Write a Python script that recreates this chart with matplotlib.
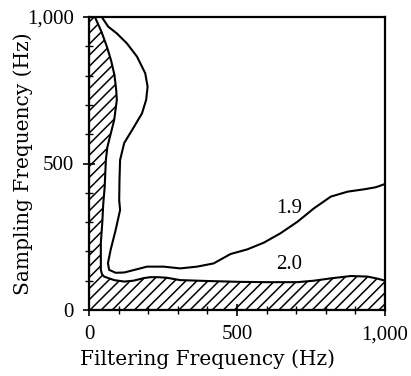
import matplotlib
matplotlib.use("Agg")
import numpy as np
from matplotlib import pyplot as plt
from matplotlib.ticker import MultipleLocator, FuncFormatter

# hatched region boundary (filtering Hz, sampling Hz)
hatch_x = [0, 20, 42, 60, 75, 86, 92, 94, 85, 74, 62, 57, 53, 48, 45, 40, 40, 44, 51,
           85, 119, 150, 186, 207, 235, 263, 308, 399, 512, 600, 704, 760, 817, 885, 941,
           975, 1000, 1000, 0]
hatch_y = [1000, 1000, 950, 900, 850, 802, 750, 717, 648, 604, 556, 512, 420, 360, 300,
           229, 137, 122, 114, 102, 97, 100, 109, 112, 112, 110, 102, 99, 96, 95, 95, 100,
           108, 116, 114, 107, 100, 0, 0]

# contour 1.9
c19_x = [43, 65, 94, 128, 162, 190, 198, 193, 179, 152, 119, 105, 103, 102, 105, 90,
         73, 64, 68, 90, 119, 150, 196, 252, 308, 365, 421, 478, 535, 591, 647,
         704, 760, 817, 874, 930, 969, 1000]
c19_y = [1000, 967, 944, 910, 865, 808, 762, 717, 671, 625, 570, 512, 444, 375, 341, 273,
         205, 160, 137, 127, 128, 136, 148, 148, 142, 148, 159, 191, 207, 230, 262,
         301, 347, 387, 404, 412, 419, 430]

labels = ["1.9", "2.0"]
label_x = [675, 675]
label_y = [348, 154]

plt.rcParams['font.family'] = ['Liberation Serif', 'DejaVu Serif']
plt.rcParams['hatch.linewidth'] = 1.1

fig = plt.figure(figsize=(4.11, 3.76), dpi=100)
ax = fig.add_axes([89 / 411, 1 - 310 / 376, 296 / 411, 293 / 376])

ax.fill(hatch_x, hatch_y, facecolor="white", edgecolor="black", hatch="///", linewidth=1.5)
ax.plot(c19_x, c19_y, color="black", linewidth=1.5)

for t, x, y in zip(labels, label_x, label_y):
    ax.text(x, y, t, fontsize=15, ha="center", va="center")

ax.set_xlim(0, 1000)
ax.set_ylim(0, 1000)
ax.xaxis.set_major_locator(MultipleLocator(500))
ax.yaxis.set_major_locator(MultipleLocator(500))
ax.xaxis.set_minor_locator(MultipleLocator(100))
ax.yaxis.set_minor_locator(MultipleLocator(100))
fmt = FuncFormatter(lambda v, p: f"{int(v):,}")
ax.xaxis.set_major_formatter(fmt)
ax.yaxis.set_major_formatter(fmt)
ax.tick_params(which="major", direction="inout", length=8, width=1.2, labelsize=15, pad=7)
ax.tick_params(which="minor", direction="inout", length=6, width=1.0)

for s in ax.spines.values():
    s.set_linewidth(1.6)

ax.set_xlabel("Filtering Frequency (Hz)", fontsize=14.5, family="DejaVu Serif")
ax.set_ylabel("Sampling Frequency (Hz)", fontsize=14.5, family="DejaVu Serif")
ax.xaxis.set_label_coords(0.40, -0.135)
ax.yaxis.set_label_coords(-0.19, 0.50)

fig.savefig("out.png", dpi=100)
